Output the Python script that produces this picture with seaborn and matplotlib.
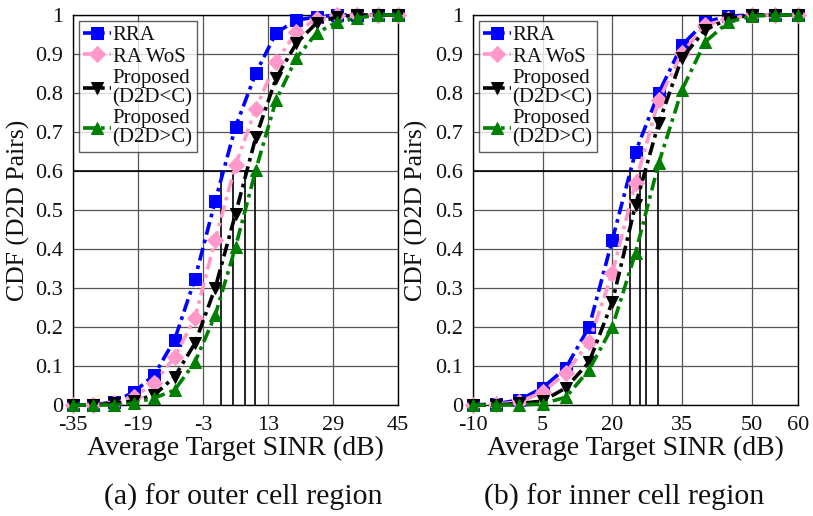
import numpy as np
import pandas as pd
import matplotlib
matplotlib.use("Agg")
import matplotlib.pyplot as plt
import seaborn as sns

# ---------------- data ----------------
x_outer = [-35, -30, -25, -20, -15, -10, -5, 0, 5, 10, 15, 20, 25, 30, 35, 40, 45]
rra_outer = [0, 0, 0.008, 0.033, 0.077, 0.167, 0.323, 0.523, 0.713, 0.851, 0.954, 0.987, 0.995, 1, 1, 1, 1]
rawos_outer = [0, 0, 0.005, 0.02, 0.056, 0.123, 0.223, 0.423, 0.615, 0.76, 0.88, 0.957, 0.99, 1, 1, 1, 1]
prop_lt_outer = [0, 0, 0.004, 0.01, 0.026, 0.072, 0.158, 0.30, 0.49, 0.687, 0.838, 0.928, 0.98, 0.995, 1, 1, 1]
prop_gt_outer = [0, 0, 0, 0.005, 0.018, 0.038, 0.11, 0.23, 0.405, 0.603, 0.782, 0.89, 0.954, 0.982, 0.992, 1, 1]
drop_x_outer = [1.5, 4.4, 7.4, 9.8]

x_inner = [-10, -5, 0, 5, 10, 15, 20, 25, 30, 35, 40, 45, 50, 55, 60]
rra_inner = [0, 0.003, 0.013, 0.044, 0.095, 0.20, 0.423, 0.649, 0.80, 0.923, 0.982, 0.997, 1, 1, 1]
rawos_inner = [0, 0.002, 0.008, 0.033, 0.082, 0.162, 0.338, 0.57, 0.782, 0.902, 0.974, 0.99, 1, 1, 1]
prop_lt_inner = [0, 0, 0.004, 0.01, 0.044, 0.11, 0.264, 0.513, 0.723, 0.89, 0.962, 0.99, 1, 1, 1]
prop_gt_inner = [0, 0, 0, 0.003, 0.02, 0.09, 0.20, 0.39, 0.62, 0.808, 0.931, 0.982, 0.997, 1, 1]
drop_x_inner = [23.8, 25.9, 27.2, 29.8]

labels = ["RRA", "RA WoS", "Proposed\n(D2D<C)", "Proposed\n(D2D>C)"]
colors = ["#0000FF", "#FF99CC", "#000000", "#008000"]
markers = ["s", "D", "v", "^"]
yticks = [0, 0.1, 0.2, 0.3, 0.4, 0.5, 0.6, 0.7, 0.8, 0.9, 1]
ytick_labels = ["0", "0.1", "0.2", "0.3", "0.4", "0.5", "0.6", "0.7", "0.8", "0.9", "1"]
xticks_outer = [-35, -19, -3, 13, 29, 45]
xticks_inner = [-10, 5, 20, 35, 50, 60]
xlabel = "Average Target SINR (dB)"
ylabel = "CDF (D2D Pairs)"
captions = ["(a) for outer cell region", "(b) for inner cell region"]

sns.set_style("white")
plt.rcParams["font.family"] = ["Liberation Serif", "DejaVu Serif"]
plt.rcParams["axes.unicode_minus"] = False
plt.rcParams["text.color"] = "#111111"
plt.rcParams["axes.labelcolor"] = "#111111"
plt.rcParams["xtick.color"] = "#111111"
plt.rcParams["ytick.color"] = "#111111"

fig = plt.figure(figsize=(8.13, 5.16), dpi=100)
ax1 = fig.add_axes([73 / 813, 111 / 516, 325 / 813, 390 / 516])
ax2 = fig.add_axes([473 / 813, 111 / 516, 325 / 813, 390 / 516])

panels = [
    (ax1, x_outer, [rra_outer, rawos_outer, prop_lt_outer, prop_gt_outer], drop_x_outer, (-35, 45), xticks_outer, -0.132, 243),
    (ax2, x_inner, [rra_inner, rawos_inner, prop_lt_inner, prop_gt_inner], drop_x_inner, (-10, 60), xticks_inner, -0.138, 624),
]

dashdot = (0, (3.6, 1.4, 1.0, 1.4))

for i, (ax, xs, series, drops, xlim, xticks, ylab_x, cap_x) in enumerate(panels):
    ax.set_xlim(*xlim)
    ax.set_ylim(0, 1)
    ax.set_xticks(xticks)
    ax.set_yticks(yticks)
    ax.set_yticklabels(ytick_labels)
    ax.grid(True, color="#555555", lw=0.9)
    ax.set_axisbelow(True)
    # reference lines at CDF=0.6
    ax.plot([xlim[0], max(drops)], [0.6, 0.6], color="black", lw=1.2, zorder=2)
    for d in drops:
        ax.plot([d, d], [0, 0.6], color="black", lw=1.2, zorder=2)
    for ys, lab, c, m in zip(series, labels, colors, markers):
        df = pd.DataFrame({"x": xs, "y": ys})
        sns.lineplot(data=df, x="x", y="y", ax=ax, color=c, marker=m, markersize=8.5,
                     markeredgecolor=c, markerfacecolor=c, linestyle=dashdot, lw=2.6,
                     label=lab, clip_on=False, zorder=3)
    ax.set_xlabel(xlabel, fontsize=20)
    ax.xaxis.set_label_coords(0.5, -0.08)
    ax.set_ylabel(ylabel, fontsize=18.5)
    ax.yaxis.set_label_coords(ylab_x, 0.5)
    ax.tick_params(axis="x", labelsize=16, direction="in", length=0, pad=8)
    ax.tick_params(axis="y", labelsize=16, direction="in", length=0, pad=7)
    for s in ax.spines.values():
        s.set_color("black")
        s.set_linewidth(1.0)
    leg = ax.legend(loc="upper left", bbox_to_anchor=(0.0, 1.0), borderaxespad=0.3,
                    fontsize=15, frameon=True, fancybox=False, edgecolor="#333333",
                    handlelength=1.3, handletextpad=0.1, labelspacing=0.1,
                    borderpad=0.2)
    for t in leg.get_texts():
        t.set_linespacing(1.0)
        t.set_color("#111111")
    leg.get_frame().set_linewidth(1.0)
    fig.text(cap_x / 813, 1 - 497 / 516, captions[i], ha="center", va="center", fontsize=21.5)

fig.savefig("out.png", dpi=100)
